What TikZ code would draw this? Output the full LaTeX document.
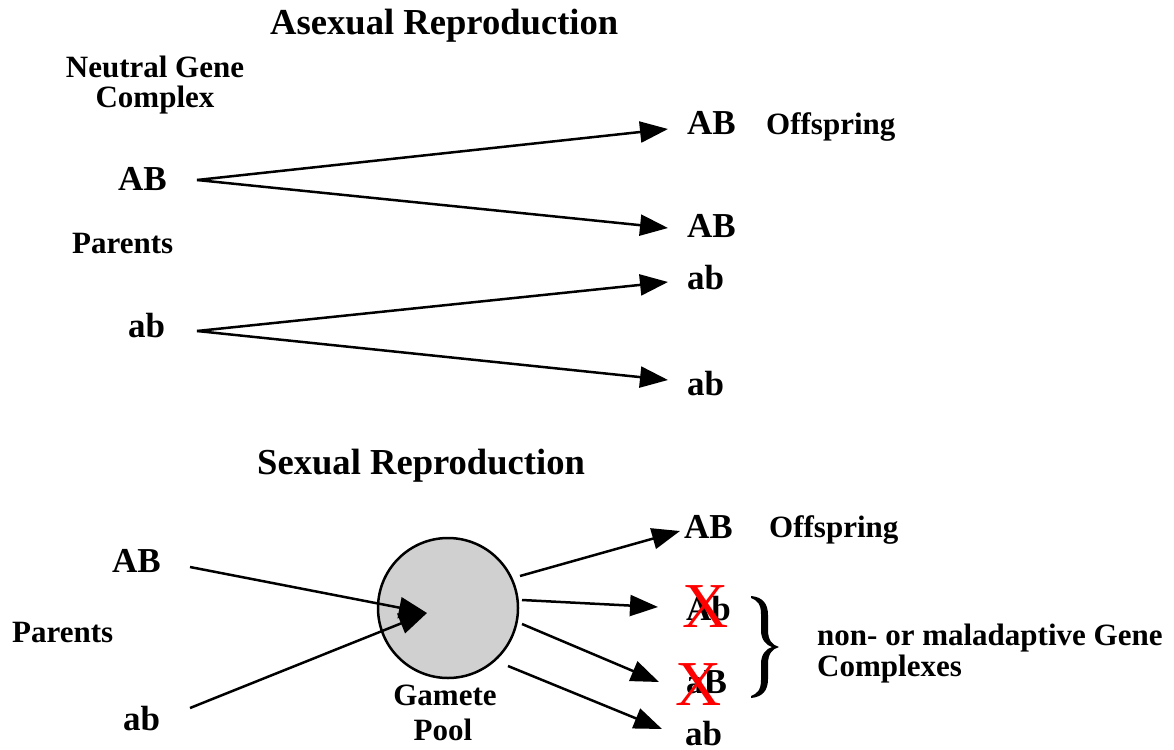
\documentclass[tikz,border=0pt]{standalone}
\usepackage{fontspec}
\setmainfont{Liberation Serif}
\usetikzlibrary{arrows.meta}
\definecolor{poolgray}{HTML}{D0D0D0}
\begin{document}
\begin{tikzpicture}[x=1pt,y=-1pt,
  big/.style={font=\fontsize{35}{40}\selectfont\bfseries, inner sep=0pt, anchor=base west},
  lbl/.style={font=\fontsize{31}{34}\selectfont\bfseries, inner sep=0pt, anchor=base west},
  clbl/.style={font=\fontsize{31}{34}\selectfont\bfseries, inner sep=0pt, anchor=base},
  ttl/.style={font=\fontsize{36.6}{40}\selectfont\bfseries, inner sep=0pt, anchor=base west},
  arr/.style={line width=2.5pt, -{Triangle[length=28pt,width=21pt]}},
  cross/.style={font=\fontsize{64}{64}\selectfont, text=red, inner sep=0pt, anchor=base}]
\useasboundingbox (0,0) rectangle (1174,749);

% ---------- Asexual ----------
\node[ttl] (t1) at (270,35) {Asexual Reproduction};
\node[clbl] (ng1) at (155,78) {Neutral Gene};
\node[clbl] (ng2) at (155,108) {Complex};
\node[big] (pAB) at (118,190) {AB};
\node[lbl] (par1) at (72,253) {Parents};
\node[big] (pab) at (128,337) {ab};
\node[big] (oAB1) at (687,134) {AB};
\node[lbl] (off1) at (766,134) {Offspring};
\node[big] (oAB2) at (687,237) {AB};
\node[big] (oab1) at (687,289) {ab};
\node[big] (oab2) at (687,395) {ab};

\coordinate (s1) at (197,180);
\coordinate (s2) at (197,331);
\coordinate (e1) at (668,129);
\coordinate (e2) at (668,228);
\coordinate (e3) at (668,282);
\coordinate (e4) at (668,380);
\draw[arr] (s1) -- (e1);
\draw[arr] (s1) -- (e2);
\draw[arr] (s2) -- (e3);
\draw[arr] (s2) -- (e4);

% ---------- Sexual ----------
\node[ttl] (t2) at (257,474) {Sexual Reproduction};
\node[big] (sAB) at (112,572) {AB};
\node[lbl] (par2) at (12,642) {Parents};
\node[big] (sab) at (123,730) {ab};
\node[circle, draw, line width=2.5pt, fill=poolgray, minimum size=140pt, inner sep=0pt] (pool) at (448,608) {};
\node[clbl] (gam) at (445,705) {Gamete};
\node[clbl] (pl) at (443,740) {Pool};

\node[big] (rAB) at (684,538) {AB};
\node[lbl] (off2) at (769,537) {Offspring};
\node[big] (rAb) at (686,620) {Ab};
\node[big] (raB) at (686,693) {aB};
\node[big] (rab) at (685,745) {ab};

\node[cross] (x1) at (706,627) {X};
\node[cross] (x2) at (699,705) {X};

\coordinate (in1) at (190,567);
\coordinate (in2) at (190,708);
\coordinate (pc) at (427,613);
\draw[arr] (in1) -- (pc);
\draw[arr] (in2) -- (pc);

\coordinate (o1s) at (520,576);
\coordinate (o2s) at (522,600);
\coordinate (o3s) at (522,624);
\coordinate (o4s) at (508,666);
\coordinate (o1e) at (680,531);
\coordinate (o2e) at (658,607);
\coordinate (o3e) at (659,682);
\coordinate (o4e) at (662,729);
\draw[arr] (o1s) -- (o1e);
\draw[arr] (o2s) -- (o2e);
\draw[arr] (o3s) -- (o3e);
\draw[arr] (o4s) -- (o4e);

% brace
\fill (751,596) .. controls (762,597) and (768,603) .. (768,615) -- (768,630)
  .. controls (768,640) and (772,645) .. (779,647)
  .. controls (772,649) and (768,654) .. (768,664) -- (768,679)
  .. controls (768,691) and (762,697) .. (751,698) -- (751,696)
  .. controls (757,694) and (761,690) .. (761,680) -- (761,664)
  .. controls (761,654) and (766,649) .. (772,647)
  .. controls (766,645) and (761,640) .. (761,630) -- (761,614)
  .. controls (761,604) and (757,600) .. (751,598) -- cycle;

\node[lbl] (nm1) at (817,645) {non- or maladaptive Gene};
\node[lbl] (nm2) at (817,676) {Complexes};
\end{tikzpicture}
\end{document}
